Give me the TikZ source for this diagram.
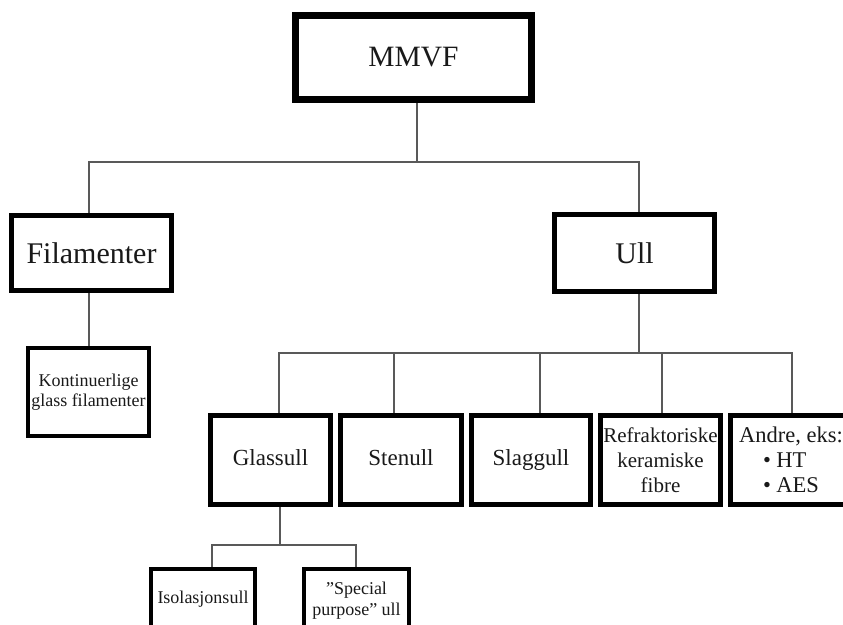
\documentclass[tikz,border=0pt]{standalone}
\usepackage{fontspec}
\setmainfont{Liberation Serif}
\begin{document}
\begin{tikzpicture}[x=1pt,y=-1pt,
  box/.style={draw=black, line width=#1, fill=white, inner sep=0pt, align=center, text=black!90},
  conn/.style={draw=black!65, line width=1.1pt},
  big/.style={font=\fontsize{30}{34}\selectfont},
  mid/.style={font=\fontsize{23}{26}\selectfont, text height=16pt, text depth=5pt},
  med/.style={font=\fontsize{21}{25}\selectfont},
  small/.style={font=\fontsize{18}{20.5}\selectfont}]
\useasboundingbox (0,0) rectangle (843,624);
\fill[white] (0,0) rectangle (843,624);
\clip (0,0) rectangle (843,624);

% level 0
\node[box=7pt, minimum width=236pt, minimum height=84pt, font=\fontsize{29.5}{34}\selectfont] (mmvf) at (413.5,57.5) {MMVF};
% level 1
\node[box=5pt, big, minimum width=160pt, minimum height=75pt] (fil) at (91.5,253) {Filamenter};
\node[box=5pt, big, minimum width=160pt, minimum height=77pt] (ull) at (634.5,253) {Ull};
% under Filamenter
\node[box=4pt, small, font=\fontsize{18}{20}\selectfont, minimum width=121pt, minimum height=88pt] (kont) at (88.5,392) {Kontinuerlige\\glass filamenter};
% level 2
\node[box=5pt, mid, minimum width=120pt, minimum height=89pt] (glass) at (270.5,460) {Glassull};
\node[box=5pt, mid, minimum width=121pt, minimum height=89pt] (sten) at (401,460) {Stenull};
\node[box=5pt, mid, minimum width=119pt, minimum height=89pt] (slag) at (531,460) {Slaggull};
\node[box=5pt, med, minimum width=120pt, minimum height=89pt] (refr) at (660.5,460) {Refraktoriske\\keramiske\\fibre};
\node[box=5pt, font=\fontsize{22.5}{25}\selectfont, minimum width=121pt, minimum height=89pt] (andre) at (791,460) {Andre, eks:\\\makebox[56pt][l]{\textbullet\ HT}\\\makebox[56pt][l]{\textbullet\ AES}};
% level 3
\node[box=4pt, small, minimum width=104pt, minimum height=60pt] (isol) at (203,599) {Isolasjonsull};
\node[box=4pt, small, font=\fontsize{18}{21}\selectfont, minimum width=105pt, minimum height=63pt] (spec) at (356.5,600.5) {”Special\\purpose” ull};

% connectors
\coordinate (j1) at (417,162);
\coordinate (j2) at (639,353);
\coordinate (j3) at (280,545);
\draw[conn] ([xshift=3.5pt]mmvf.south) -- (j1);
\draw[conn] ([xshift=-2.5pt]fil.north) |- (j1) -| ([xshift=4.5pt]ull.north);
\draw[conn] ([xshift=-2.5pt]fil.south) -- ([xshift=-2.5pt]fil.south |- kont.north);
\draw[conn] ([xshift=4.5pt]ull.south) -- (j2);
\draw[conn] ([xshift=8.5pt]glass.north) |- (j2) -| ([xshift=1pt]andre.north);
\draw[conn] ([xshift=-7pt]sten.north) |- (j2);
\draw[conn] ([xshift=9pt]slag.north) |- (j2);
\draw[conn] ([xshift=1.5pt]refr.north) |- (j2);
\draw[conn] ([xshift=9.5pt]glass.south) -- (j3);
\draw[conn] ([xshift=9pt]isol.north) |- (j3) -| ([xshift=-0.5pt]spec.north);
\end{tikzpicture}
\end{document}
